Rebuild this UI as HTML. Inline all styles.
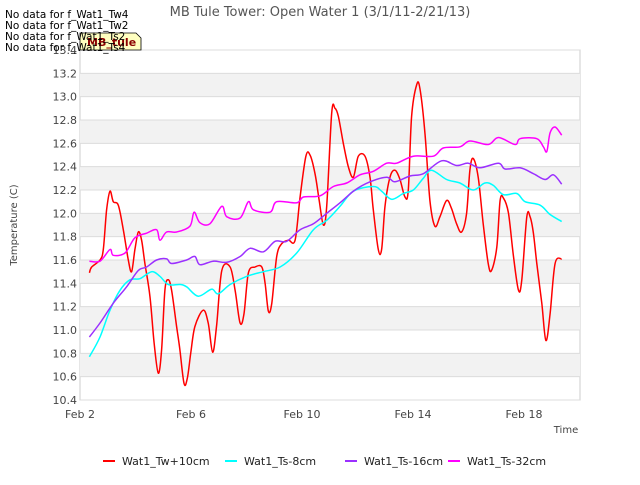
<!DOCTYPE html>
<html><head><meta charset="utf-8"><style>
body{margin:0;background:#fff;font-family:"Liberation Sans",sans-serif}
svg text{font-family:"DejaVu Sans","Liberation Sans",sans-serif}
</style></head><body>
<svg id="c" width="640" height="480" xmlns="http://www.w3.org/2000/svg"></svg>
<script>
const yTicks=[10.4,10.6,10.8,11.0,11.2,11.4,11.6,11.8,12.0,12.2,12.4,12.6,12.8,13.0,13.2,13.4];
const xTickDays=[0,4,8,12,16];
const xTickLabels=["Feb 2","Feb 6","Feb 10","Feb 14","Feb 18"];
const seriesNames=["Wat1_Tw+10cm","Wat1_Ts-8cm","Wat1_Ts-16cm","Wat1_Ts-32cm"];
const seriesColors=["#ff0000","#00ffff","#9b30ff","#ff00ff"];
const redDays=[0.34,0.42,0.72,0.84,0.96,1.08,1.20,1.38,1.56,1.74,1.86,1.98,2.10,2.22,2.34,2.52,2.67,2.82,2.94,3.06,3.18,3.30,3.48,3.60,3.75,3.87,3.99,4.14,4.44,4.62,4.78,4.92,5.11,5.41,5.59,5.77,5.91,6.07,6.31,6.55,6.67,6.79,6.91,7.09,7.27,7.51,7.75,7.93,8.14,8.29,8.47,8.62,8.77,8.89,9.07,9.19,9.31,9.49,9.67,9.85,10.03,10.27,10.45,10.57,10.75,10.87,10.99,11.17,11.35,11.53,11.71,11.83,11.95,12.13,12.25,12.43,12.61,12.79,12.97,13.21,13.39,13.57,13.75,13.93,14.05,14.17,14.35,14.53,14.71,14.83,15.02,15.14,15.26,15.44,15.62,15.80,15.92,16.10,16.22,16.34,16.46,16.64,16.79,16.94,17.12,17.36];
const redVals=[11.49,11.54,11.60,11.69,12.03,12.19,12.10,12.07,11.86,11.60,11.50,11.69,11.84,11.77,11.57,11.29,10.89,10.63,10.83,11.34,11.43,11.34,11.03,10.83,10.54,10.59,10.80,11.03,11.17,11.06,10.81,11.03,11.51,11.54,11.34,11.06,11.14,11.49,11.54,11.54,11.40,11.16,11.23,11.63,11.74,11.77,11.77,12.14,12.49,12.50,12.34,12.11,11.90,12.06,12.86,12.90,12.83,12.60,12.40,12.31,12.49,12.49,12.31,12.03,11.69,11.69,12.06,12.31,12.37,12.29,12.14,12.20,12.83,13.10,13.07,12.69,12.11,11.89,11.97,12.11,12.04,11.91,11.84,12.00,12.37,12.47,12.31,11.91,11.57,11.51,11.71,12.11,12.13,12.00,11.63,11.34,11.43,11.97,11.97,11.83,11.57,11.23,10.91,11.14,11.57,11.61];
const cyanDays=[0.34,0.72,1.08,1.44,1.80,2.16,2.58,2.88,3.18,3.60,3.84,4.26,4.74,4.98,5.41,6.01,6.61,7.21,7.81,8.41,8.89,9.37,9.85,10.57,10.87,11.23,11.65,12.01,12.37,12.67,13.21,13.69,14.17,14.59,14.89,15.26,15.74,16.04,16.58,16.94,17.36];
const cyanVals=[10.77,10.94,11.17,11.34,11.43,11.44,11.50,11.46,11.39,11.39,11.37,11.29,11.35,11.31,11.39,11.46,11.50,11.54,11.66,11.86,11.94,12.06,12.19,12.23,12.19,12.12,12.17,12.20,12.30,12.37,12.29,12.26,12.20,12.26,12.24,12.16,12.17,12.10,12.07,11.99,11.93];
const purpleDays=[0.34,0.72,1.20,1.68,2.10,2.40,2.76,3.12,3.30,3.84,4.14,4.32,4.80,5.29,5.77,6.13,6.61,7.03,7.45,7.93,8.41,8.89,9.37,9.91,10.45,11.05,11.35,11.89,12.37,13.03,13.57,13.99,14.41,15.08,15.32,15.86,16.34,16.76,17.06,17.36];
const purpleVals=[10.94,11.06,11.23,11.37,11.51,11.54,11.60,11.61,11.57,11.60,11.63,11.56,11.59,11.58,11.63,11.70,11.67,11.76,11.76,11.86,11.91,12.00,12.09,12.20,12.27,12.31,12.27,12.32,12.34,12.45,12.41,12.43,12.39,12.43,12.38,12.39,12.34,12.29,12.33,12.25];
const magDays=[0.34,0.72,1.08,1.20,1.62,1.98,2.40,2.76,2.88,3.12,3.48,3.96,4.11,4.32,4.68,5.11,5.29,5.77,6.07,6.25,6.85,7.09,7.81,8.05,8.65,9.13,9.61,10.09,10.57,11.05,11.41,12.01,12.73,13.09,13.69,14.05,14.71,15.08,15.68,15.86,16.46,16.70,16.82,16.94,17.12,17.36];
const magVals=[11.59,11.59,11.69,11.64,11.66,11.79,11.83,11.86,11.77,11.84,11.84,11.89,12.01,11.92,11.91,12.06,11.97,11.96,12.10,12.03,12.01,12.10,12.09,12.14,12.15,12.23,12.26,12.33,12.36,12.43,12.43,12.49,12.49,12.56,12.57,12.62,12.59,12.65,12.59,12.64,12.64,12.57,12.53,12.69,12.74,12.67];

const NS="http://www.w3.org/2000/svg";
const svg=document.getElementById('c');
const L=80,R=580,T=50,B=400,Y0=10.4,Y1=13.4,DAYPX=27.75;
const X=d=>L+d*DAYPX;
const Y=v=>B-(v-Y0)/(Y1-Y0)*(B-T);
function mk(tag,attrs,parent){const e=document.createElementNS(NS,tag);for(const k in attrs)e.setAttribute(k,attrs[k]);(parent||svg).appendChild(e);return e;}
function smooth(P){let d='M'+P[0][0].toFixed(1)+','+P[0][1].toFixed(1);
  for(let i=0;i<P.length-1;i++){const p0=P[Math.max(0,i-1)],p1=P[i],p2=P[i+1],p3=P[Math.min(P.length-1,i+2)];
    const c1x=p1[0]+(p2[0]-p0[0])/6,c1y=p1[1]+(p2[1]-p0[1])/6,c2x=p2[0]-(p3[0]-p1[0])/6,c2y=p2[1]-(p3[1]-p1[1])/6;
    d+=' C'+c1x.toFixed(1)+','+c1y.toFixed(1)+' '+c2x.toFixed(1)+','+c2y.toFixed(1)+' '+p2[0].toFixed(1)+','+p2[1].toFixed(1);}
  return d;}

let bg=mk('rect',{x:L,y:T,width:R-L,height:B-T,fill:'#fff',stroke:'#ccc'});


for(let i=0;i<yTicks.length-1;i++){
  if(i%2===1){let b=mk('rect',{x:L,y:Y(yTicks[i+1]),width:R-L,height:Y(yTicks[i])-Y(yTicks[i+1]),fill:'#f2f2f2'});
  
  }
}
yTicks.forEach(v=>{
  let g=mk('line',{x1:L,x2:R,y1:Y(v),y2:Y(v),stroke:'#dcdcdc','stroke-width':1});
  
  
  let t=mk('text',{x:L-3,y:Y(v)+4,'text-anchor':'end','font-size':11,fill:'#444'});
  t.textContent=v.toFixed(1);
  
  
});
xTickDays.forEach((d,i)=>{
  let t=mk('text',{x:X(d),y:B+18,'text-anchor':'middle','font-size':11,fill:'#444'});
  t.textContent=xTickLabels[i];
  
  
});
const allDays=[redDays,cyanDays,purpleDays,magDays],allVals=[redVals,cyanVals,purpleVals,magVals];
allDays.forEach((ds,s)=>{
  const P=ds.map((d,i)=>[X(d),Y(allVals[s][i])]);
  let p=mk('path',{d:smooth(P),fill:'none',stroke:seriesColors[s],'stroke-width':1.5,'stroke-linejoin':'round'});
  
  
});
let ti=mk('text',{x:320,y:16,'text-anchor':'middle','font-size':13,fill:'#555'});
ti.textContent='MB Tule Tower: Open Water 1 (3/1/11-2/21/13)';


let yt=mk('text',{x:17,y:225,'text-anchor':'middle','font-size':10,fill:'#444',transform:'rotate(-90 17 225)'});
yt.textContent='Temperature (C)';


let xt=mk('text',{x:566,y:433,'text-anchor':'middle','font-size':10,fill:'#444'});
xt.textContent='Time';


const legX=[103,225,345,448];
seriesNames.forEach((n,s)=>{
  let l=mk('line',{x1:legX[s],x2:legX[s]+12,y1:461,y2:461,stroke:seriesColors[s],'stroke-width':2});
  
  
  let t=mk('text',{x:legX[s]+19,y:465,'font-size':11,fill:'#222'});
  t.textContent=n;
  
  
});
let tag=mk('path',{d:'M80,33 L136,33 L141,38 L141,50 L80,50 Z',fill:'#ffffc0',stroke:'#000','stroke-width':0.8});


let tt=mk('text',{x:87,y:46,'font-size':11,'font-weight':'bold',fill:'#8b0000'});
tt.textContent='MB_tule';


['No data for f_Wat1_Tw4','No data for f_Wat1_Tw2','No data for f_Wat1_Ts2','No data for f_Wat1_Ts4'].forEach((m,i)=>{
  let t=mk('text',{x:5,y:18+i*11,'font-size':10.5,fill:'#000'});
  t.textContent=m;
  
  
});
</script>
</body></html>
